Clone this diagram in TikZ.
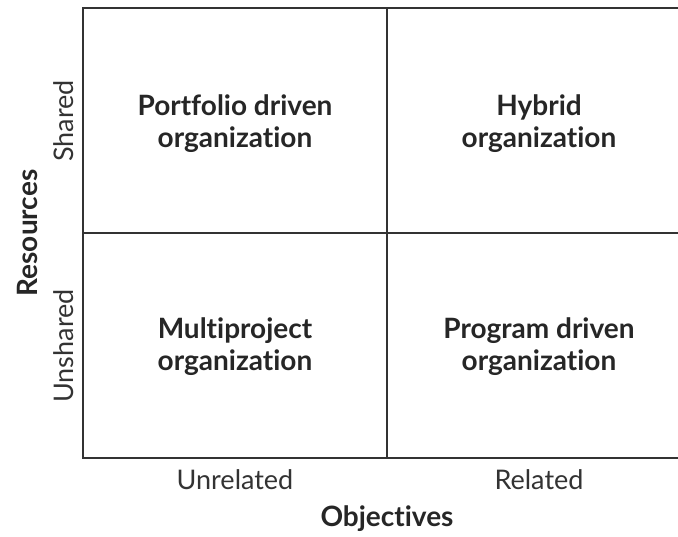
\documentclass[tikz,border=0pt]{standalone}
\usepackage{fontspec}
\setmainfont{Lato}[Ligatures={NoCommon}]
\begin{document}
\begin{tikzpicture}[x=1pt,y=-1pt,
  gridline/.style={draw=black!80,line width=1.8pt},
  cell/.style={font=\fontsize{28}{32}\selectfont\bfseries,align=center,text=black!85},
  tick/.style={font=\fontsize{27}{30}\selectfont,text=black!80},
  axis/.style={font=\fontsize{28}{30}\selectfont\bfseries,text=black!85}]
\useasboundingbox (0,0) rectangle (678,536);
\begin{scope}
\clip (0,0) rectangle (678,536);
\coordinate (tl) at (83,8);
\coordinate (tr) at (700,8);
\coordinate (ml) at (83,233);
\coordinate (mr) at (700,233);
\coordinate (bl) at (83,458);
\coordinate (br) at (700,458);
\coordinate (mt) at (387,8);
\coordinate (mb) at (387,458);
\draw[gridline] (tr) -- (tl) -- (bl) -- (br);
\draw[gridline] (ml) -- (mr);
\draw[gridline] (mt) -- (mb);
\end{scope}
\node[cell] (pf) at (235,124) {Portfolio driven\\organization};
\node[cell] (hy) at (539,124) {Hybrid\\organization};
\node[cell] (mp) at (235,347) {Multiproject\\organization};
\node[cell] (pg) at (539,347) {Program driven\\organization};
\node[tick] (unrel) at (235,480) {Unrelated};
\node[tick] (rel) at (539,480) {Related};
\node[axis] (obj) at (387,519) {Objectives};
\node[tick,rotate=90] (sh) at (64,121) {Shared};
\node[tick,rotate=90] (ush) at (64,346) {Unshared};
\node[axis,rotate=90] (res) at (27,233) {Resources};
\end{tikzpicture}
\end{document}
